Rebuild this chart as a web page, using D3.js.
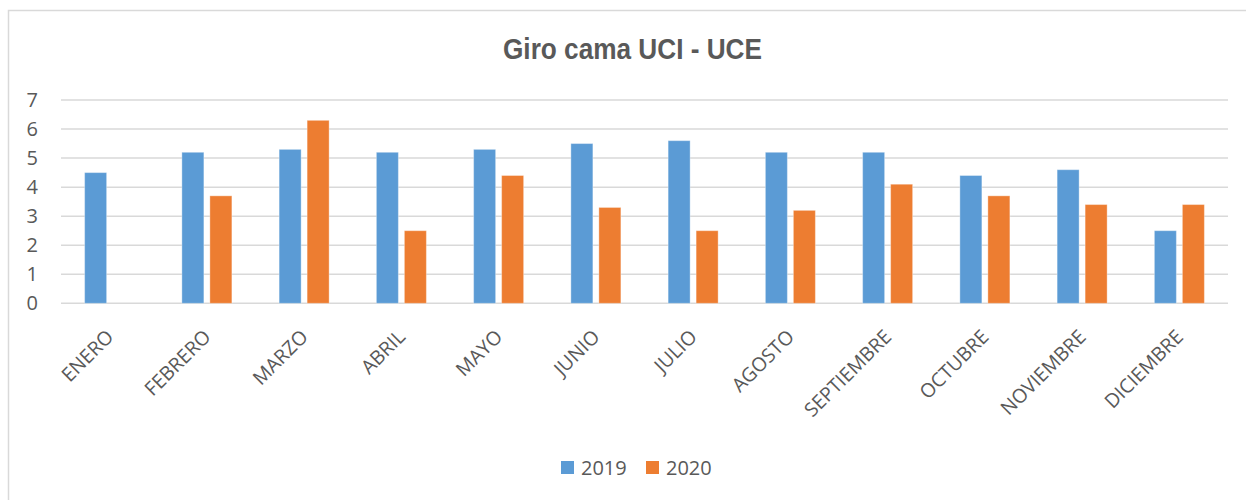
<!DOCTYPE html>
<html>
<head>
<meta charset="utf-8">
<script src="https://cdn.jsdelivr.net/npm/d3@7/dist/d3.min.js"></script>
<style>
  html, body { margin: 0; padding: 0; background: #fff; }
  svg { display: block; }
</style>
</head>
<body>
<svg id="chart" width="1246" height="500"></svg>
<script>
const categories = ["ENERO","FEBRERO","MARZO","ABRIL","MAYO","JUNIO","JULIO","AGOSTO","SEPTIEMBRE","OCTUBRE","NOVIEMBRE","DICIEMBRE"];
const seriesNames = ["2019","2020"];
const values2019 = [4.5,5.2,5.3,5.2,5.3,5.5,5.6,5.2,5.2,4.4,4.6,2.5];
const values2020 = [null,3.7,6.3,2.5,4.4,3.3,2.5,3.2,4.1,3.7,3.4,3.4];
const yTicks = [0,1,2,3,4,5,6,7];
const colors = ["#5b9bd5","#ed7d31"];
const title = "Giro cama UCI - UCE";

const svg = d3.select("#chart");
const textColor = "#595959";
const gridColor = "#d9d9d9";

// chart border
svg.append("rect")
  .attr("x", 8.5).attr("y", 10.5)
  .attr("width", 1260).attr("height", 520)
  .attr("fill", "none").attr("stroke", gridColor).attr("stroke-width", 1.5);

const plotLeft = 61, plotRight = 1228, plotTop = 100, plotBottom = 303.3;

const x0 = d3.scaleBand().domain(categories).range([plotLeft, plotRight]).padding(0);
const groupW = 50;
const x1 = d3.scaleBand().domain(seriesNames).range([0, groupW]).paddingInner(6/28).paddingOuter(0);
const y = d3.scaleLinear().domain([0, 7]).range([plotBottom, plotTop]);

// gridlines
svg.append("g").selectAll("line").data(yTicks).join("line")
  .attr("x1", plotLeft).attr("x2", plotRight)
  .attr("y1", d => y(d)).attr("y2", d => y(d))
  .attr("stroke", gridColor).attr("stroke-width", 1.5);

// y axis labels
const yAxis = d3.axisLeft(y).tickValues(yTicks).tickSize(0).tickPadding(0).tickFormat(d3.format("d"));
const yg = svg.append("g").attr("transform", `translate(38,0)`).call(yAxis);
yg.select(".domain").remove();
yg.selectAll("text")
  .attr("fill", textColor)
  .style("font-family", "'Open Sans', sans-serif")
  .style("font-size", "20px");

// bars
const data = categories.map((c, i) => ({ cat: c, vals: [values2019[i], values2020[i]] }));
const groups = svg.append("g").selectAll("g").data(data).join("g")
  .attr("transform", d => `translate(${x0(d.cat) + (x0.bandwidth() - groupW) / 2},0)`);
groups.selectAll("rect")
  .data(d => d.vals.map((v, j) => ({ s: seriesNames[j], v, j })).filter(e => e.v != null))
  .join("rect")
  .attr("x", e => x1(e.s))
  .attr("width", x1.bandwidth())
  .attr("y", e => y(e.v))
  .attr("height", e => y(0) - y(e.v))
  .attr("fill", e => colors[e.j])
  .attr("stroke", "#ffffff").attr("stroke-opacity", 0.35).attr("stroke-width", 1);

// x labels
const xAxis = d3.axisBottom(x0).tickSize(0).tickPadding(0);
const xg = svg.append("g").call(xAxis);
xg.select(".domain").remove();
xg.selectAll(".tick").attr("transform", d => `translate(${x0(d) + x0.bandwidth() / 2 + 5},338)`);
xg.selectAll("text")
  .attr("y", 0).attr("dy", 0)
  .attr("text-anchor", "end")
  .attr("transform", "rotate(-45)")
  .attr("fill", textColor)
  .style("font-family", "'Open Sans', sans-serif")
  .style("font-size", "19.5px");

// title
svg.append("text")
  .attr("x", 632.5).attr("y", 59)
  .attr("text-anchor", "middle")
  .attr("fill", textColor)
  .attr("textLength", 259)
  .attr("lengthAdjust", "spacingAndGlyphs")
  .style("font-family", "'Liberation Sans', Arial, sans-serif")
  .style("font-weight", "bold")
  .style("font-size", "29px")
  .text(title);

// legend
const legendItems = [{ name: "2019", x: 561 }, { name: "2020", x: 646 }];
const lg = svg.append("g").selectAll("g").data(legendItems).join("g")
  .attr("transform", d => `translate(${d.x},461)`);
lg.append("rect").attr("width", 13).attr("height", 13).attr("fill", (d, i) => colors[i]);
lg.append("text").attr("x", 20).attr("y", 13.5)
  .attr("fill", textColor)
  .style("font-family", "'Open Sans', sans-serif")
  .style("font-size", "20px")
  .text(d => d.name);
</script>
</body>
</html>
